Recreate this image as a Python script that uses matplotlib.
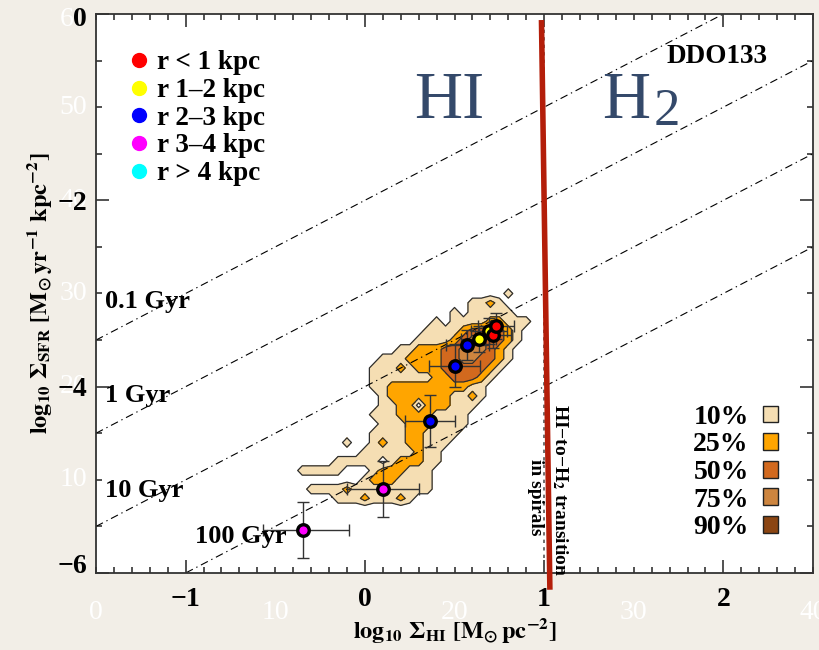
import numpy as np
import matplotlib
matplotlib.use("Agg")
import matplotlib.pyplot as plt
from matplotlib.lines import Line2D
from matplotlib.patches import Patch
from matplotlib.ticker import MultipleLocator, FixedLocator, FixedFormatter

plt.rcParams['font.family'] = ['Liberation Serif', 'DejaVu Serif']
plt.rcParams['font.weight'] = 'bold'
plt.rcParams['mathtext.fontset'] = 'stix'

# ---------------- data ----------------
ring_labels = ['r < 1 kpc', 'r 1–2 kpc', 'r 2–3 kpc', 'r 3–4 kpc', 'r > 4 kpc']
ring_colors = ['#ff0000', '#ffff00', '#0000ff', '#ff00ff', '#00ffff']

point_x = [0.732, 0.713, 0.691, 0.634, 0.571, 0.500, 0.365, 0.101, -0.348]
point_y = [-3.349, -3.445, -3.402, -3.491, -3.553, -3.775, -4.365, -5.101, -5.538]
point_ring = [0, 0, 1, 1, 2, 2, 2, 3, 3]
xerr_lo = [0.10, 0.10, 0.10, 0.10, 0.12, 0.14, 0.14, 0.20, 0.22]
xerr_hi = [0.10, 0.10, 0.10, 0.10, 0.12, 0.14, 0.14, 0.20, 0.26]
yerr_v = [0.14, 0.14, 0.14, 0.14, 0.16, 0.23, 0.28, 0.30, 0.30]

level_labels = ['10%', '25%', '50%', '75%', '90%']
level_colors = ['#f5deb3', '#ffa500', '#d2691e', '#cd853f', '#8b4513']

# pixel-density level map (0 = none, 1..5 = enclosed fraction level)
grid_x0, grid_dx = -0.35, 0.05
grid_y0, grid_dy = -3.0, -0.1
density_rows = [
    "000000000000000000000001000",
    "000000000000000000011210000",
    "000000000000000001011111000",
    "000000000000000101111221110",
    "000000000000001111233332100",
    "000000000000011112344332100",
    "000000000001122233444321000",
    "000000000111222233443321000",
    "000000001112122233333210000",
    "000000001111111223332100000",
    "000000001122222222211000000",
    "000000000122222221121000000",
    "000000000112202221110000000",
    "000000001112222111100000000",
    "000000000111222111100000000",
    "000000001111221111000000000",
    "000001001211221110000000000",
    "000000011111121100000000000",
    "000011111012221100000000000",
    "111110001222111000000000000",
    "000000012221111000000000000",
    "011112111111111000000000000",
    "000011121112100000000000000",
]

depletion_gyr = [0.1, 1, 10, 100]
depletion_labels = ['0.1 Gyr', '1 Gyr', '10 Gyr', '100 Gyr']
depletion_label_x = [-1.45, -1.45, -1.45, -0.95]
depletion_label_y = [-3.09, -4.09, -5.11, -5.61]

transition_x = [0.985, 1.032]
transition_y = [-0.065, -6.18]

y_major = [-6, -4, -2, 0]
y_major_txt = ['−6', '−4', '−2', '0']
x_major = [-1, 0, 1, 2]

ghost_x_pos = [-1.5, -0.5, 0.5, 1.5, 2.5]
ghost_x_txt = ['0', '10', '20', '30', '40']
ghost_y_pos = [0, -1, -2, -3, -4, -5, -6]
ghost_y_txt = ['60', '50', '40', '30', '20', '10', '0']

# ---------------- figure ----------------
fig = plt.figure(figsize=(8.2, 6.5), dpi=100)
fig.patch.set_facecolor('#f2eee7')
ax = fig.add_axes([0.1171, 0.1185, 0.8744, 0.86])
ax.set_facecolor('white')
ax.set_xlim(-1.5, 2.5)
ax.set_ylim(-6, 0)

# density contours
Z = np.array([[int(c) for c in row] for row in density_rows], dtype=float)
Z = np.pad(Z, 1)
gx = grid_x0 + grid_dx * (np.arange(Z.shape[1]) - 1)
gy = grid_y0 + grid_dy * (np.arange(Z.shape[0]) - 1)
gy, Z = gy[::-1], Z[::-1]
zmax = int(Z.max())
lev = [k + 0.5 for k in range(zmax + 1)]
ax.contourf(gx, gy, Z, levels=lev, colors=level_colors[:zmax], zorder=1)
ax.contour(gx, gy, Z, levels=lev[:-1], colors='#2e2e2e', linewidths=0.9, zorder=1.2)

# depletion time lines
xl = np.array([-1.5, 2.5])
for tau in depletion_gyr:
    ax.plot(xl, xl + 6 - np.log10(tau * 1e9), color='black', lw=0.8,
            dashes=(7, 3.5, 1.2, 3.5), zorder=2)
for t, tx, ty in zip(depletion_labels, depletion_label_x, depletion_label_y):
    ax.text(tx, ty, t, fontsize=19, fontweight='bold', ha='left', va='center', zorder=6)

# transition lines
ax.axvline(1.0, color='#555555', lw=1.2, ls=(0, (2, 2.5)), zorder=2)
ax.plot(transition_x, transition_y, color='#b41e0a', lw=4.0, solid_capstyle='butt',
        clip_on=False, zorder=7)
ax.text(1.09, -5.11, 'HI−to−H$_\\mathbf{2}$ transition', rotation=270, fontsize=14,
        fontweight='bold', ha='center', va='center', zorder=6)
ax.text(0.951, -5.19, 'in spirals', rotation=270, fontsize=14,
        fontweight='bold', ha='center', va='center', zorder=6)

# data points
order = list(range(len(point_x)))[::-1]
for k in order:
    ax.errorbar(point_x[k], point_y[k],
                xerr=[[xerr_lo[k]], [xerr_hi[k]]], yerr=[[yerr_v[k]], [yerr_v[k]]],
                fmt='none', ecolor='#333333', elinewidth=1.0, capsize=4, capthick=1.0, zorder=3)
for k in order:
    ax.plot(point_x[k], point_y[k], ls='', marker='o', ms=8.3,
            mfc=ring_colors[point_ring[k]], mec='black', mew=2.4, zorder=4)

# big labels
big_color = '#34496a'
ax.text(0.277, -1.12, 'HI', fontsize=48, fontweight='normal', color=big_color,
        ha='left', va='baseline', family='Liberation Serif', zorder=6)
ax.text(1.325, -1.12, 'H', fontsize=48, fontweight='normal', color=big_color,
        ha='left', va='baseline', family='Liberation Serif', zorder=6)
ax.text(1.612, -1.19, '2', fontsize=38, fontweight='normal', color=big_color,
        ha='left', va='baseline', family='Liberation Serif', zorder=6)
ax.text(1.965, -0.46, 'DDO133', fontsize=19.5, fontweight='bold', ha='center', va='center', zorder=6)

# ticks
ax.xaxis.set_major_locator(FixedLocator(x_major))
ax.xaxis.set_minor_locator(MultipleLocator(0.1))
ax.yaxis.set_major_locator(FixedLocator(y_major))
ax.yaxis.set_minor_locator(MultipleLocator(0.5))
# end labels (0 and -6) sit slightly inside the frame in the slide: drawn as texts below
ax.yaxis.set_major_formatter(FixedFormatter(
    ['' if v in (y_major[0], y_major[-1]) else t for v, t in zip(y_major, y_major_txt)]))
ax.tick_params(which='both', direction='in', top=True, right=True, width=1.2, color='#333333')
ax.tick_params(which='major', length=9.5, labelsize=20)
ax.tick_params(axis='x', which='major', pad=10)
ax.tick_params(axis='y', which='major', pad=6.5)
ax.tick_params(which='minor', length=4.5)
for s in ax.spines.values():
    s.set_linewidth(1.3)
    s.set_color('#333333')

ytxt = ax.get_yaxis_transform()
end_shift = {y_major[0]: 0.07, y_major[-1]: -0.06}

# ghost labels (white, from underlying slide)
for p, t in zip(ghost_x_pos, ghost_x_txt):
    ax.text(p, -0.048, t, transform=ax.get_xaxis_transform(), fontsize=20, color='white',
            fontweight='normal', ha='center', va='top', zorder=0.5, clip_on=False)
for p, t in zip(ghost_y_pos, ghost_y_txt):
    ax.text(-0.0125, p + end_shift.get(p, 0), t, transform=ytxt, fontsize=20, color='white',
            fontweight='normal', ha='right', va='center', zorder=0.5, clip_on=False)
for v, t in zip(y_major, y_major_txt):
    if v in end_shift:
        ax.text(-0.0125, v + end_shift[v], t, transform=ytxt, fontsize=20, color='black',
                fontweight='bold', ha='right', va='center', zorder=0.8, clip_on=False)

ax.set_xlabel(r'$\mathbf{log_{10}\ \Sigma_{HI}\ [M_{\odot}\,pc^{-2}]}$', fontsize=17.5)
ax.set_ylabel(r'$\mathbf{log_{10}\ \Sigma_{SFR}\ [M_{\odot}\,yr^{-1}\ kpc^{-2}]}$', fontsize=17.5)
ax.xaxis.set_label_coords(0.5, -0.078)
ax.yaxis.set_label_coords(-0.058, 0.5)

# legends
h1 = [Line2D([], [], ls='', marker='o', ms=10, mfc=c, mec=c) for c in ring_colors]
leg1 = ax.legend(h1, ring_labels, loc='upper left', bbox_to_anchor=(0.047, 0.935),
                 frameon=False, borderpad=0, borderaxespad=0, handlelength=0.65,
                 handletextpad=0.35, labelspacing=0.1,
                 prop={'family': 'Liberation Serif', 'weight': 'bold', 'size': 19.5})
leg1.set_zorder(8)
ax.add_artist(leg1)
h2 = [Patch(facecolor=c, edgecolor='#222222', linewidth=1.0) for c in level_colors]
leg2 = ax.legend(h2, level_labels, loc='upper right', bbox_to_anchor=(0.951, 0.301),
                 frameon=False, markerfirst=False, borderpad=0, borderaxespad=0,
                 handlelength=0.55, handleheight=0.55, handletextpad=0.5, labelspacing=0.095,
                 prop={'family': 'Liberation Serif', 'weight': 'bold', 'size': 20})
leg2.set_zorder(8)

fig.savefig('out.png', dpi=100, facecolor=fig.get_facecolor())
